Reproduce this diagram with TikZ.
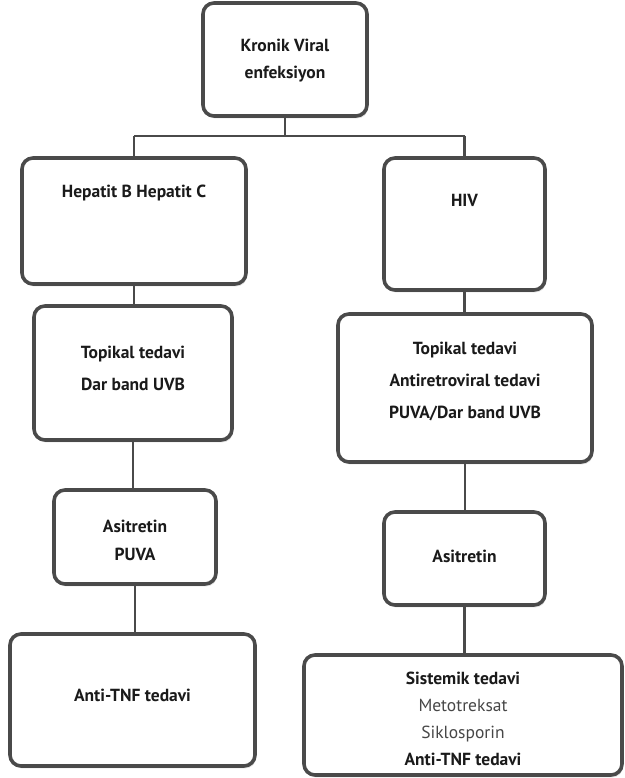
\documentclass[tikz,border=0pt]{standalone}
\usepackage{fontspec}
\setmainfont{PT Sans}
\usetikzlibrary{shadows}
\definecolor{edge}{HTML}{4A4A4A}
\definecolor{ink}{HTML}{1A1A1A}
\tikzset{
  box/.style={draw=edge, line width=3.6pt, rounded corners=11pt, fill=white,
    drop shadow={opacity=0.25, shadow xshift=1.2pt, shadow yshift=-2.4pt},
    inner sep=0pt},
  lbl/.style={font=\fontsize{17.5}{29}\selectfont\bfseries, text=ink, align=center, inner sep=0pt},
  link/.style={draw=edge, line width=2.8pt}
}
\newcommand{\thin}[1]{{\mdseries\color{black!72}#1}}
\begin{document}
\begin{tikzpicture}[x=1pt,y=-1pt]
\useasboundingbox (0,0) rectangle (624,778);

% boxes: centre, width, height
\node[box, minimum width=164pt, minimum height=113pt] (top) at (285,59.5) {};
\node[box, minimum width=224pt, minimum height=126pt] (l1) at (134,221) {};
\node[box, minimum width=161pt, minimum height=132pt] (r1) at (464.5,224) {};
\node[box, minimum width=198pt, minimum height=134pt] (l2) at (133,373) {};
\node[box, minimum width=254pt, minimum height=148pt] (r2) at (465,388) {};
\node[box, minimum width=162pt, minimum height=94pt] (l3) at (135,537) {};
\node[box, minimum width=161pt, minimum height=93pt] (r3) at (464.5,558.5) {};
\node[box, minimum width=245pt, minimum height=132pt] (l4) at (132.5,700) {};
\node[box, minimum width=318pt, minimum height=120pt] (r4) at (463,715) {};

% texts
\node[lbl, font=\fontsize{17.5}{27}\selectfont\bfseries] (ttop) at (285,61) {Kronik Viral\\enfeksiyon};
\node[lbl] (tl1) at (134,193) {Hepatit B Hepatit C};
\node[lbl] (tr1) at (464.5,200) {HIV};
\node[lbl, font=\fontsize{17.5}{32}\selectfont\bfseries] (tl2) at (133,368) {Topikal tedavi\\Dar band UVB};
\node[lbl, font=\fontsize{17.5}{31.5}\selectfont\bfseries] (tr2) at (465,381.5) {Topikal tedavi\\Antiretroviral tedavi\\PUVA/Dar band UVB};
\node[lbl, font=\fontsize{17.5}{28}\selectfont\bfseries] (tl3) at (135,540) {Asitretin\\PUVA};
\node[lbl] (tr3) at (464.5,556) {Asitretin};
\node[lbl] (tl4) at (132.5,695) {Anti-TNF tedavi};
\node[lbl, font=\fontsize{17.5}{27}\selectfont\bfseries] (tr4) at (463,719) {Sistemik tedavi\\\thin{Metotreksat}\\\thin{Siklosporin}\\Anti-TNF tedavi};

% connectors
\coordinate (jm) at (top.south |- 0,136);
\coordinate (jl) at (l1.north |- 0,136);
\coordinate (jr) at (r1.north |- 0,136);
\draw[link] (top.south) -- (jm);
\draw[link] (jl) -- (jr);
\draw[link] (jl) -- (l1.north);
\draw[link] (jr) -- (r1.north);
\draw[link] (l1.south) -- (l2.north -| l1.south);
\draw[link] (l2.south) -- (l3.north -| l2.south);
\draw[link] (l3.south) -- (l4.north -| l3.south);
\draw[link] (r1.south) -- (r2.north -| r1.south);
\draw[link] (r2.south) -- (r3.north -| r2.south);
\draw[link] (r3.south) -- (r4.north -| r3.south);
\end{tikzpicture}
\end{document}
